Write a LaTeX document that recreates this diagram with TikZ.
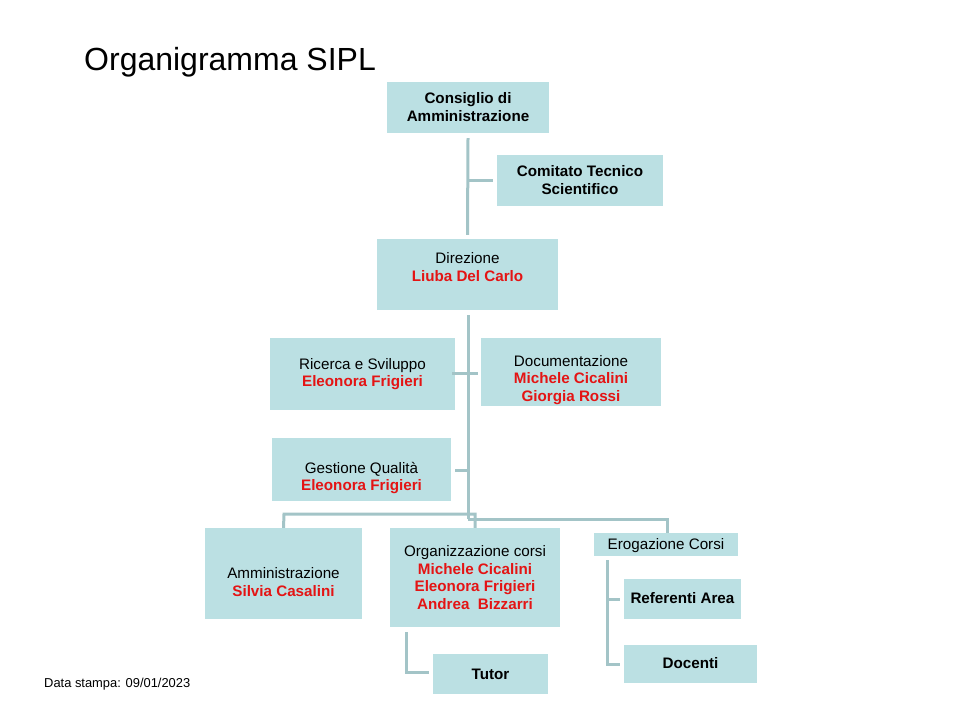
\documentclass[tikz,border=0pt]{standalone}
\usepackage{fontspec}
\setmainfont{Liberation Sans}
\definecolor{boxc}{RGB}{187,224,227}
\definecolor{linec}{RGB}{163,196,199}
\definecolor{namec}{RGB}{228,20,20}
\newcommand{\nm}[1]{\textcolor{namec}{\textbf{#1}}}
\begin{document}
\begin{tikzpicture}[x=1pt,y=-1pt,
  box/.style={fill=boxc,draw=none,inner sep=0pt},
  conn/.style={draw=linec,line width=3pt},
  lbl/.style={align=center,font=\fontsize{15.2}{17.5}\selectfont,inner sep=0pt}]
\useasboundingbox (0,0) rectangle (960,720);
% title and footer
\node[anchor=west,inner sep=0pt,font=\fontsize{32}{36}\selectfont] (title) at (84,62) {Organigramma SIPL};
\node[anchor=west,inner sep=0pt,font=\fontsize{12.9}{15}\selectfont] (data) at (44,684) {Data stampa: 09/01/2023};
% boxes
\node[box,minimum width=162pt,minimum height=51pt] (cda) at (468,107.5) {};
\node[box,minimum width=166pt,minimum height=51pt] (cts) at (580,180.5) {};
\node[box,minimum width=181pt,minimum height=71pt] (dir) at (467.5,274.5) {};
\node[box,minimum width=185pt,minimum height=72pt] (ric) at (362.5,374) {};
\node[box,minimum width=180pt,minimum height=68pt] (doc) at (571,372) {};
\node[box,minimum width=179pt,minimum height=63pt] (ges) at (361.5,469.5) {};
\node[box,minimum width=157pt,minimum height=91pt] (amm) at (283.5,573.5) {};
\node[box,minimum width=170pt,minimum height=99pt] (org) at (475,577.5) {};
\node[box,minimum width=144pt,minimum height=23pt] (ero) at (666,544.5) {};
\node[box,minimum width=117pt,minimum height=40pt] (ref) at (682.5,599) {};
\node[box,minimum width=133pt,minimum height=38pt] (doce) at (690.5,664) {};
\node[box,minimum width=115pt,minimum height=40pt] (tut) at (490.5,674) {};
% texts
\node[lbl] (cdaT) at (468,107) {\textbf{Consiglio di}\\\textbf{Amministrazione}};
\node[lbl] (ctsT) at (580,180) {\textbf{Comitato Tecnico}\\\textbf{Scientifico}};
\node[lbl] (dirT) at (467.5,267) {Direzione\\\nm{Liuba Del Carlo}};
\node[lbl] (ricT) at (362.5,374) {Ricerca e Sviluppo\\\nm{Eleonora Frigieri}};
\node[lbl] (docT) at (571,380) {Documentazione\\\nm{Michele Cicalini}\\\nm{Giorgia Rossi}};
\node[lbl] (gesT) at (361.5,478) {Gestione Qualità\\\nm{Eleonora Frigieri}};
\node[lbl] (ammT) at (283.5,582) {Amministrazione\\\nm{Silvia Casalini}};
\node[lbl] (orgT) at (475,577.5) {Organizzazione corsi\\\nm{Michele Cicalini}\\\nm{Eleonora Frigieri}\\\nm{Andrea\ \ Bizzarri}};
\node[lbl] (eroT) at (666,546) {Erogazione Corsi};
\node[lbl] (refT) at (682.5,598.5) {\textbf{Referenti Area}};
\node[lbl] (doceT) at (690.5,663.5) {\textbf{Docenti}};
\node[lbl] (tutT) at (490.5,674) {\textbf{Tutor}};
% connectors
\draw[conn] ([yshift=-5pt]cda.south) -- ([yshift=4pt]dir.north);
\draw[conn] (cda.south |- cts.west) -- ([xshift=-4pt]cts.west);
\draw[conn] ([xshift=0.5pt,yshift=-5pt]dir.south) -- (468,519);
\draw[conn] ([xshift=-3pt]ric.east |- 0,373) -- ([xshift=-3pt]doc.west |- 0,373);
\draw[conn] ([xshift=4pt]ges.east |- 0,470) -- (468,470);
\draw[conn] (amm.north) -- (284,514) -- (475,514) -- (org.north);
\draw[conn] (468,519) -- (667,519) -- (ero.north -| 667,0);
\draw[conn] ([yshift=-4pt]ero.south -| 607,0) -- (607,664) -- ([xshift=-4pt]doce.west);
\draw[conn] (607,599) -- ([xshift=-4pt]ref.west);
\draw[conn] ([yshift=-5pt]org.south -| 406,0) -- (406,672) -- ([xshift=-4pt]tut.west |- 0,672);
\end{tikzpicture}
\end{document}
